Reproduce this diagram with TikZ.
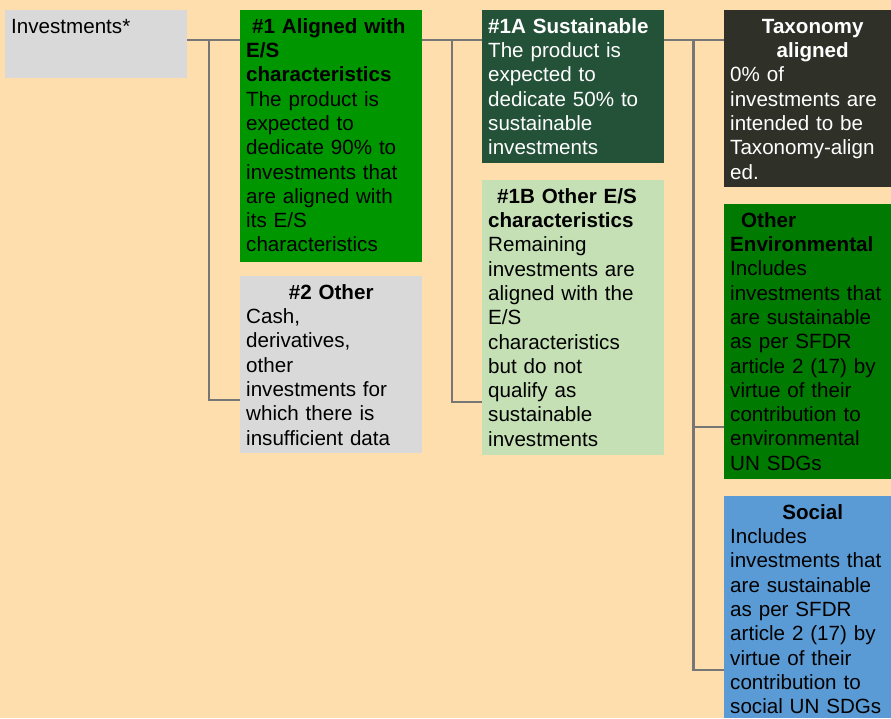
\documentclass[tikz,border=0pt]{standalone}
\usepackage{fontspec}
\setmainfont{Liberation Sans}
\usepackage{tikz}

\definecolor{peach}{HTML}{FFDEAD}
\definecolor{boxgray}{HTML}{D9D9D9}
\definecolor{esgreen}{HTML}{009600}
\definecolor{susgreen}{HTML}{245238}
\definecolor{lightgreen}{HTML}{C5E0B4}
\definecolor{taxdark}{HTML}{2F3128}
\definecolor{envgreen}{HTML}{007A00}
\definecolor{socblue}{HTML}{5B9BD5}
\definecolor{linegray}{HTML}{767676}

\tikzset{
  box/.style={anchor=north west, inner xsep=6pt, inner ysep=8pt, text height=15pt,
    align=left, font=\fontsize{20.6pt}{24.3pt}\selectfont},
  link/.style={draw=linegray, line width=2.2pt},
}

\begin{document}
\begin{tikzpicture}[x=1pt, y=1pt]
    \fill[peach] (0,0) rectangle (891,-718);
    \useasboundingbox (0,0) rectangle (891,-718);
    \clip (0,0) rectangle (891,-718);

    % first column
    \node[box, fill=boxgray, text width=170pt, text depth=37pt] (inv) at (5,-10) {Investments*};

    % second column
    \node[box, fill=esgreen, text width=170pt, text depth=221pt] (a1) at (240,-10)
        {\hspace*{6pt}\textbf{\#1 Aligned with}\\ \textbf{E/S}\\ \textbf{characteristics}\\
         The product is\\ expected to\\ dedicate 90\% to\\ investments that\\
         are aligned with\\ its E/S\\ characteristics};
    \node[box, fill=boxgray, text width=170pt, text depth=146pt] (b2) at (240,-276)
        {\makebox[\linewidth]{\textbf{\#2 Other}}\\ Cash,\\ derivatives,\\ other\\
         investments for\\ which there is\\ insufficient data};

    % third column
    \node[box, fill=susgreen, text=white, text width=170pt, text depth=122pt] (a1A) at (482,-10)
        {\textbf{\#1A Sustainable}\\ The product is\\ expected to\\ dedicate 50\% to\\
         sustainable\\ investments};
    \node[box, fill=lightgreen, text width=170pt, text depth=244pt] (a1B) at (482,-180)
        {\hspace*{9pt}\textbf{\#1B Other E/S}\\ \textbf{characteristics}\\ Remaining\\
         investments are\\ aligned with the\\ E/S\\ characteristics\\ but do not\\
         qualify as\\ sustainable\\ investments};

    % fourth column
    \node[box, fill=taxdark, text=white, text width=165pt, text depth=146pt] (tax) at (724,-10)
        {\makebox[\linewidth]{\textbf{Taxonomy}}\\ \makebox[\linewidth]{\textbf{aligned}}\\
         0\% of\\ investments are\\ intended to be\\ Taxonomy-align\\ ed.};
    \node[box, fill=envgreen, text width=165pt, text depth=244pt] (env) at (724,-204)
        {\hspace*{11pt}\textbf{Other}\\ \textbf{Environmental}\\ Includes\\
         investments that\\ are sustainable\\ as per SFDR\\ article 2 (17) by\\
         virtue of their\\ contribution to\\ environmental\\ UN SDGs};
    \node[box, fill=socblue, text width=165pt, text depth=191pt] (soc) at (724,-496)
        {\makebox[\linewidth]{\textbf{Social}}\\ Includes\\ investments that\\
         are sustainable\\ as per SFDR\\ article 2 (17) by\\ virtue of their\\
         contribution to\\ social UN SDGs};

    % connectors
    \coordinate (j1) at (209,-40);
    \coordinate (k1) at (209,-400);
    \coordinate (j2) at (452,-40);
    \coordinate (k2) at (452,-402);
    \coordinate (j3) at (693.5,-40);
    \coordinate (m3) at (693.5,-427);
    \coordinate (k3) at (693.5,-670);
    \draw[link] (inv.east |- j1) -- (a1.west |- j1);
    \draw[link] (j1) -- (k1) -- (b2.west |- k1);
    \draw[link] (a1.east |- j2) -- (a1A.west |- j2);
    \draw[link] (j2) -- (k2) -- (a1B.west |- k2);
    \draw[link] (a1A.east |- j3) -- (tax.west |- j3);
    \draw[link] (j3) -- (k3) -- (soc.west |- k3);
    \draw[link] (m3) -- (env.west |- m3);
\end{tikzpicture}
\end{document}
